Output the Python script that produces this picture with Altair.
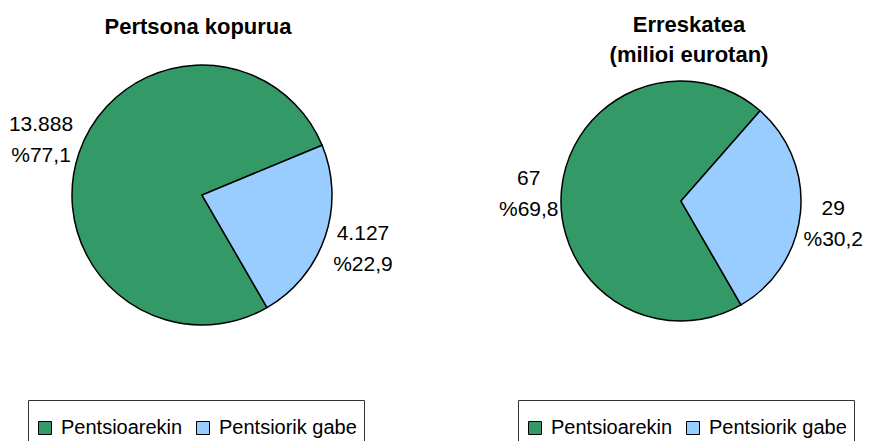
import math
import altair as alt
import pandas as pd

# ---- data ----
categories = ["Pentsioarekin", "Pentsiorik gabe"]
colors = ["#339966", "#99CCFF"]

persons_values = [13888, 4127]
persons_pct = [77.1, 22.9]

rescue_values = [67, 29]
rescue_pct = [69.8, 30.2]

title_left = "Pertsona kopurua"
title_right = "Erreskatea\n(milioi eurotan)"

FONT = "Liberation Sans"
START = math.radians(150)


def fmt_num(v):
    return f"{v:,}".replace(",", ".")


def fmt_pct(p):
    return "%" + f"{p:.1f}".replace(".", ",")


def make_df(values, pcts):
    return pd.DataFrame({
        "cat": categories,
        "value": values,
        "ord": list(range(len(categories))),
        "label": [fmt_num(v) + "\n" + fmt_pct(p) for v, p in zip(values, pcts)],
    })


def pie(df, cx, cy, r, label_r, label_dy, legend_x, legend_y):
    base = alt.Chart(df)
    theta = alt.Theta("value:Q", stack=True,
                      scale=alt.Scale(range=[START, START + 2 * math.pi]))
    arc = base.mark_arc(outerRadius=r, stroke="black", strokeWidth=1.5).encode(
        theta=theta,
        order=alt.Order("ord:Q"),
        x=alt.value(cx),
        y=alt.value(cy),
        color=alt.Color(
            "cat:N",
            scale=alt.Scale(domain=categories, range=colors),
            legend=alt.Legend(
                orient="none", legendX=legend_x, legendY=legend_y,
                direction="horizontal", title=" ", titleOrient="top",
                titleFontSize=6, titlePadding=5,
                symbolType="square", symbolSize=169,
                symbolStrokeColor="black", symbolStrokeWidth=1,
                labelFont=FONT, labelFontSize=20, labelColor="black",
                labelOffset=6, columnPadding=10, padding=7,
                strokeColor="#333333", fillColor="white", labelLimit=400,
            ),
        ),
    )
    text = base.mark_text(radius=label_r, font=FONT, fontSize=21,
                          lineBreak="\n", lineHeight=31, color="black",
                          align="center", baseline="middle",
                          dy=label_dy).encode(
        theta=theta,
        order=alt.Order("ord:Q"),
        x=alt.value(cx),
        y=alt.value(cy),
        text="label:N",
    )
    return alt.layer(arc, text)


left = pie(make_df(persons_values, persons_pct), 194, 187, 130, 170, -15.5, 20, 392)
right = pie(make_df(rescue_values, rescue_pct), 673, 193, 120, 153, -7, 510, 392)

dummy = pd.DataFrame({"d": [0]})
t_left = alt.Chart(dummy).mark_text(
    font=FONT, fontSize=22, fontWeight="bold", color="black",
    align="center", baseline="middle",
).encode(x=alt.value(190), y=alt.value(19), text=alt.value(title_left))
t_right = alt.Chart(dummy).mark_text(
    font=FONT, fontSize=22, fontWeight="bold", color="black",
    align="center", baseline="middle", lineBreak="\n", lineHeight=30,
).encode(x=alt.value(681), y=alt.value(17), text=alt.value(title_right))

chart = alt.layer(left, right, t_left, t_right).resolve_scale(
    theta="independent", color="independent"
).properties(
    width=856, height=440, padding=0,
    autosize=alt.AutoSizeParams(type="none"),
).configure_view(stroke=None)

chart.save("out.html", embed_options={"renderer": "svg", "actions": False})
